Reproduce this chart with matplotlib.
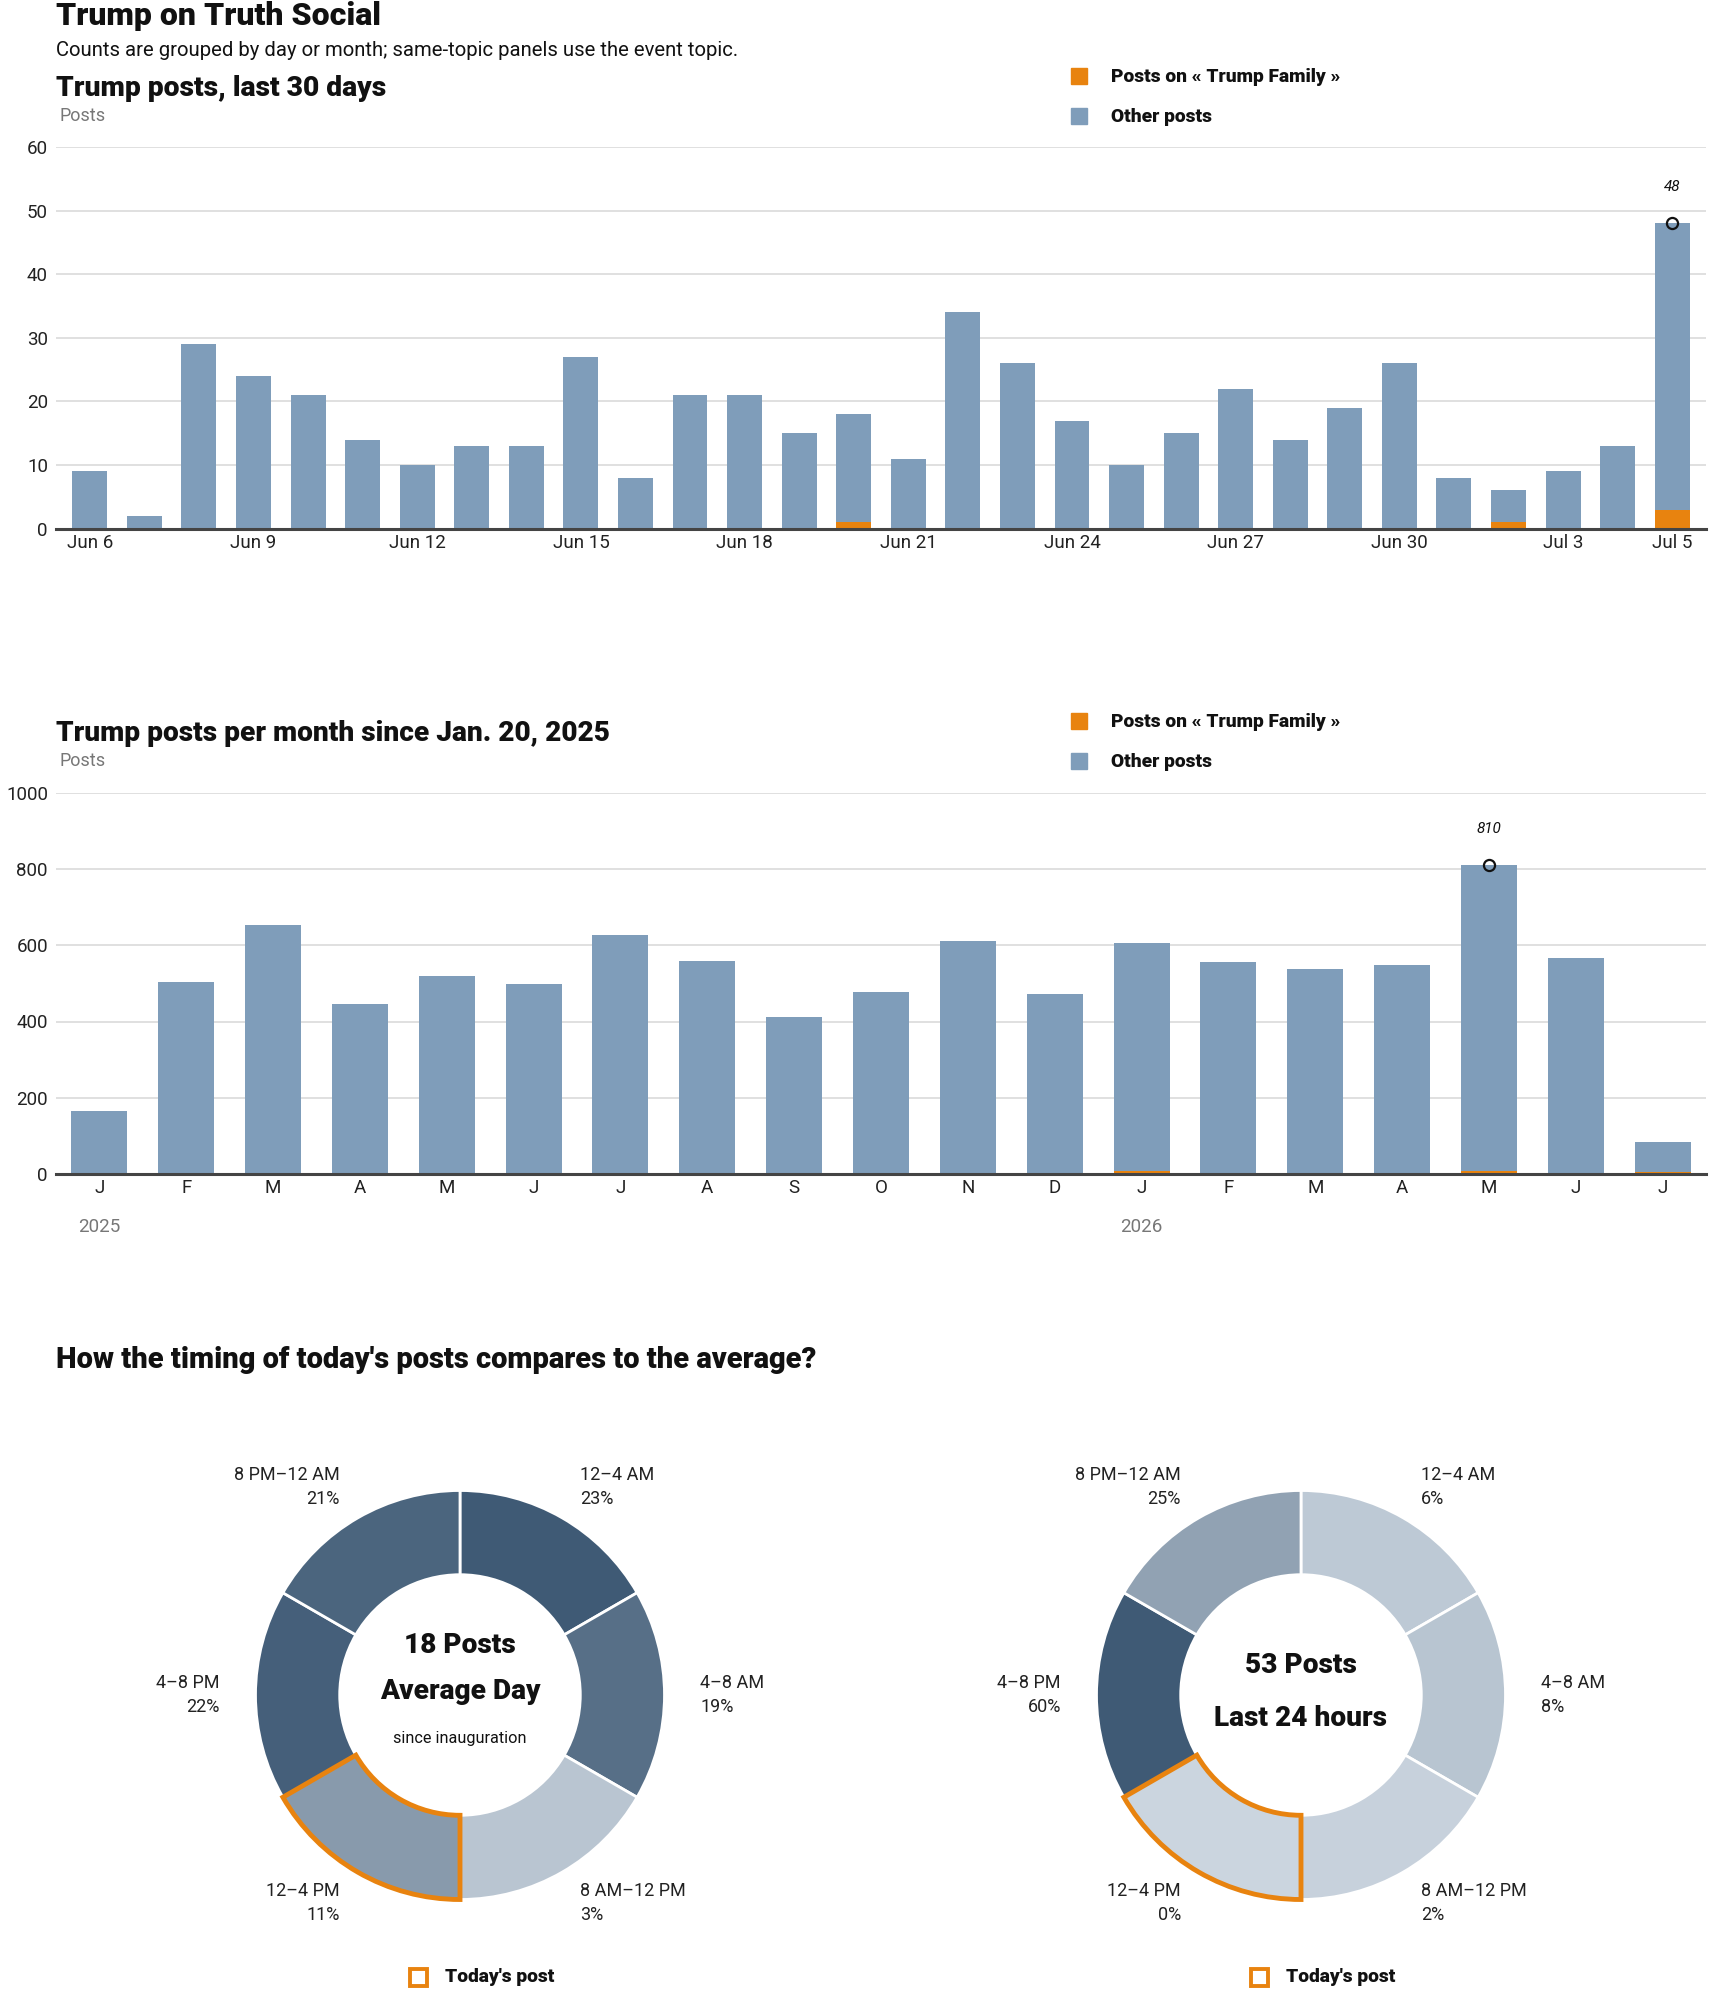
import numpy as np
import matplotlib
import matplotlib.pyplot as plt
from matplotlib import font_manager as fm
from matplotlib.colors import LinearSegmentedColormap
from matplotlib.patches import Rectangle
from matplotlib.transforms import blended_transform_factory

# --- Data: last 30 days ---
day_labels = ([f"Jun {d}" for d in range(6, 31)] +
              [f"Jul {d}" for d in range(1, 6)])
day_family = [0, 0, 0, 0, 0, 0, 0, 0, 0, 0, 0, 0, 0, 0, 1,
              0, 0, 0, 0, 0, 0, 0, 0, 0, 0, 0, 1, 0, 0, 3]
day_other = [9, 2, 29, 24, 21, 14, 10, 13, 13, 27, 8, 21, 21, 15, 17,
             11, 34, 26, 17, 10, 15, 22, 14, 19, 26, 8, 5, 9, 13, 45]
day_ticks = [0, 3, 6, 9, 12, 15, 18, 21, 24, 27, 29]

# --- Data: per month since Jan. 20, 2025 ---
month_labels = ["J", "F", "M", "A", "M", "J", "J", "A", "S", "O", "N", "D",
                "J", "F", "M", "A", "M", "J", "J"]
month_family = [0, 0, 0, 0, 0, 0, 0, 0, 0, 0, 0, 0, 7, 0, 0, 0, 7, 1, 4]
month_other = [164, 504, 654, 447, 520, 499, 628, 559, 412, 477, 612, 473,
               600, 556, 538, 549, 803, 567, 79]
year_labels = {0: "2025", 12: "2026"}

# --- Data: timing ---
slot_labels = ["12–4 AM", "4–8 AM", "8 AM–12 PM", "12–4 PM", "4–8 PM", "8 PM–12 AM"]
avg_share = [23, 19, 3, 11, 22, 21]
today_share = [6, 8, 2, 0, 60, 25]
avg_posts = 18
today_posts = 53
today_slot = 3

# --- Style ---
W, H = 1710, 1993
BLUE = "#7f9dba"
ORANGE = "#e8830f"
GRID = "#dddddd"
DARK = "#111111"
GRAY = "#777777"
plt.rcParams["font.family"] = ["Roboto", "DejaVu Sans"]

# pick the heaviest headline face that is installed
HEAVY = dict(family=["Lato", "DejaVu Sans"], weight="black")
for fam, wt in [("Roboto", 900), ("Inter", 900), ("Open Sans", 800), ("Lato", 900)]:
    if any(e.name == fam and e.weight >= wt for e in fm.fontManager.ttflist):
        HEAVY = dict(family=[fam, "DejaVu Sans"], weight=wt)
        break

fig = plt.figure(figsize=(W / 100, H / 100), dpi=100)
renderer = fig.canvas.get_renderer()


def ftext(x, y, s, **kw):
    return fig.text(x / W, 1 - y / H, s, **kw)


def fit(t, width_px):
    # scale the font so the text spans the width measured on the reference
    bb = t.get_window_extent(renderer)
    t.set_fontsize(t.get_fontsize() * width_px / bb.width)
    return t.get_fontsize()


def add_ax(left, top, right, bottom):
    return fig.add_axes([left / W, 1 - bottom / H, (right - left) / W, (bottom - top) / H])


def legend(y1, y2):
    t = ftext(1111, y1 + 1, "Posts on « Trump Family »", fontsize=13, va="center",
              color=DARK, **HEAVY)
    size = fit(t, 229)
    ftext(1111, y2 + 1, "Other posts", fontsize=size, va="center", color=DARK, **HEAVY)
    for y, col in [(y1, ORANGE), (y2, BLUE)]:
        fig.patches.append(Rectangle((1071 / W, 1 - (y + 8) / H), 16 / W, 16 / H,
                                     transform=fig.transFigure, color=col))


def style_bar_ax(ax, ymax, step):
    ax.set_ylim(0, ymax)
    ax.set_yticks(np.arange(0, ymax + 1, step))
    ax.yaxis.grid(True, color=GRID, lw=1.3)
    ax.set_axisbelow(True)
    for s in ["top", "right", "left"]:
        ax.spines[s].set_visible(False)
    ax.spines["bottom"].set_color("#444444")
    ax.spines["bottom"].set_linewidth(2.2)
    ax.spines["bottom"].set_zorder(5)
    ax.tick_params(axis="y", length=0, pad=5.8, labelsize=13.5, labelcolor="#222222")
    ax.tick_params(axis="x", length=0, pad=4, labelsize=13.5, labelcolor="#222222")


# --- Header ---
t = ftext(56, 16, "Trump on Truth Social", fontsize=22, va="center", color=DARK, **HEAVY)
fit(t, 324)
ftext(56, 51, "Counts are grouped by day or month; same-topic panels use the event topic.",
      fontsize=14.6, va="center", color=DARK)

# --- Chart 1: last 30 days ---
t = ftext(56, 88, "Trump posts, last 30 days", fontsize=19, va="center", color=DARK, **HEAVY)
fit(t, 331)
ftext(59, 116, "Posts", fontsize=13, va="center", color=GRAY)
legend(76, 116)

ax1 = add_ax(56, 147.1, 1706, 528.6)
x1 = np.arange(len(day_labels))
ax1.bar(x1, day_family, width=0.64, color=ORANGE)
ax1.bar(x1, day_other, width=0.64, bottom=day_family, color=BLUE)
style_bar_ax(ax1, 60, 10)
ax1.set_xlim(-0.62, len(day_labels) - 0.38)
ax1.set_xticks(day_ticks)
ax1.set_xticklabels([day_labels[i] for i in day_ticks])
tot1 = np.array(day_family) + np.array(day_other)
i1 = int(np.argmax(tot1))
ax1.plot(i1, tot1[i1], "o", mfc="none", mec=DARK, ms=8, mew=1.6, zorder=6)
ax1.annotate(str(tot1[i1]), (i1, tot1[i1]), xytext=(0, 26), textcoords="offset points",
             ha="center", va="center", fontsize=11, style="italic", color=DARK)

# --- Chart 2: per month ---
t = ftext(56, 733.6, "Trump posts per month since Jan. 20, 2025", fontsize=19, va="center",
          color=DARK, **HEAVY)
fit(t, 554)
ftext(59, 761.4, "Posts", fontsize=13, va="center", color=GRAY)
legend(721.4, 761.4)

ax2 = add_ax(56, 793.2, 1706, 1173.7)
x2 = np.arange(len(month_labels))
ax2.bar(x2, month_family, width=0.645, color=ORANGE)
ax2.bar(x2, month_other, width=0.645, bottom=month_family, color=BLUE)
style_bar_ax(ax2, 1000, 200)
ax2.set_xlim(-0.5, len(month_labels) - 0.5)
ax2.set_xticks(x2)
ax2.set_xticklabels(month_labels)
tr = blended_transform_factory(ax2.transData, ax2.transAxes)
for i, yl in year_labels.items():
    ax2.text(i, -0.139, yl, transform=tr, ha="center", va="center", fontsize=13.5, color=GRAY)
tot2 = np.array(month_family) + np.array(month_other)
i2 = int(np.argmax(tot2))
ax2.plot(i2, tot2[i2], "o", mfc="none", mec=DARK, ms=8, mew=1.6, zorder=6)
ax2.annotate(str(tot2[i2]), (i2, tot2[i2]), xytext=(0, 26), textcoords="offset points",
             ha="center", va="center", fontsize=11, style="italic", color=DARK)

# --- Chart 3: donuts ---
t = ftext(56, 1360, "How the timing of today's posts compares to the average?", fontsize=19,
          va="center", color=DARK, **HEAVY)
fit(t, 762)

cmap = LinearSegmentedColormap.from_list("share", ["#cbd5df", "#3f5a75"])
R = 204.5
HOLE = 120.3 / R


def donut(cx, cy, shares, center_lines):
    ax = fig.add_axes([(cx - 1.6 * R) / W, (H - (cy + 1.45 * R)) / H, 3.2 * R / W, 3.05 * R / H])
    top = max(shares)
    cols = [cmap(s / top) for s in shares]
    wedges, _ = ax.pie([1] * len(shares), startangle=90, counterclock=False, colors=cols,
                       radius=1, wedgeprops=dict(width=1 - HOLE, edgecolor="white", linewidth=2))
    hw = wedges[today_slot]
    hw.set_edgecolor(ORANGE)
    hw.set_linewidth(3.5)
    hw.set_zorder(4)
    ax.set_xlim(-1.6, 1.6)
    ax.set_ylim(-1.45, 1.6)
    ax.set_aspect("equal", adjustable="box")
    ax.axis("off")
    n = len(shares)
    for k, (lab, s) in enumerate(zip(slot_labels, shares)):
        ang = np.deg2rad(90 - 360 / n * (k + 0.5))
        x, y = 1.174 * np.cos(ang), 1.174 * np.sin(ang)
        ha = "left" if x > 0.01 else "right"
        ax.text(x, y, f"{lab}\n{s}%", ha=ha, va="center", multialignment=ha,
                fontsize=13, color="#222222", linespacing=1.4)
    for y, s, kw in center_lines:
        ax.text(0, y, s, ha="center", va="center", color=DARK, **kw)
    # Today's post key
    fig.patches.append(Rectangle(((cx - 50) / W, 1 - (cy + 291) / H), 17 / W, 17 / H,
                                 transform=fig.transFigure, fill=False, ec=ORANGE, lw=2.8))
    tk = ftext(cx - 15, cy + 282, "Today's post", fontsize=13, va="center", color=DARK, **HEAVY)
    fit(tk, 110)


probe = fig.text(0, 0, "Average Day", fontsize=18, **HEAVY)
center_size = fit(probe, 160)
probe.remove()

donut(460, 1695, avg_share, [
    (0.24, f"{avg_posts} Posts", dict(fontsize=center_size, **HEAVY)),
    (0.015, "Average Day", dict(fontsize=center_size, **HEAVY)),
    (-0.215, "since inauguration", dict(fontsize=11.7)),
])
donut(1301, 1695, today_share, [
    (0.143, f"{today_posts} Posts", dict(fontsize=center_size, **HEAVY)),
    (-0.115, "Last 24 hours", dict(fontsize=center_size, **HEAVY)),
])

fig.savefig("out.png", dpi=100, facecolor="white")
